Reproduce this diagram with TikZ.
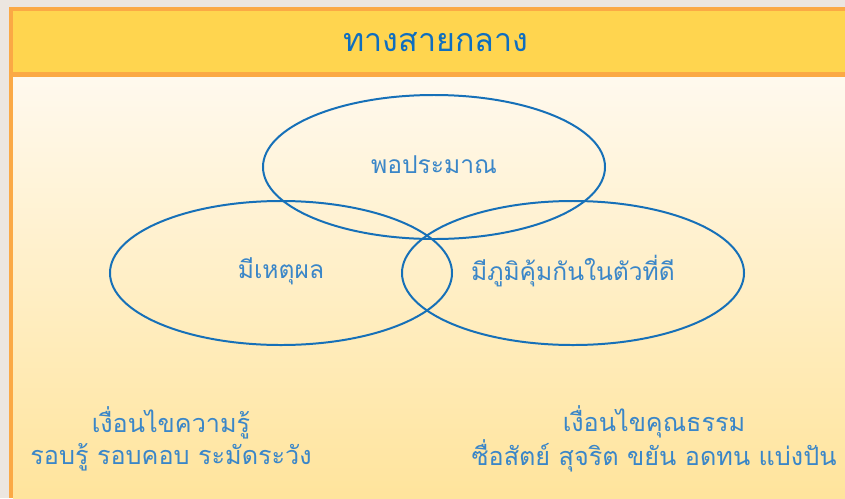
\documentclass[tikz,border=0pt]{standalone}
\usepackage{fontspec}
\newfontfamily\thaifont[Script=Thai]{Loma}
\usetikzlibrary{shapes.geometric, positioning, backgrounds}
\definecolor{headyellow}{RGB}{255,213,79}
\definecolor{frameorange}{RGB}{251,169,69}
\definecolor{bodytop}{RGB}{255,249,238}
\definecolor{bodybottom}{RGB}{255,228,156}
\definecolor{outergray}{RGB}{236,230,224}
\definecolor{ringblue}{RGB}{22,112,184}
\definecolor{textblue}{RGB}{58,134,200}
\definecolor{titleblue}{RGB}{15,110,191}

\begin{document}
\begin{tikzpicture}[
  x=0.03cm, y=-0.03cm,
  ring/.style={ellipse, draw=ringblue, line width=1.7pt, minimum width=10.26cm, minimum height=4.32cm},
  label/.style={font=\thaifont\fontsize{21}{24}\selectfont, text=textblue},
  note/.style={font=\thaifont\fontsize{21.5}{27}\selectfont, text=textblue, align=center}
]
  \useasboundingbox (0,0) rectangle (845,498);

  % Frame
  \fill[outergray] (0,0) rectangle (845,498);
  \fill[frameorange] (9,7) rectangle (845,498);
  \shade[top color=bodytop, bottom color=bodybottom] (13,77) rectangle (845,498);
  \fill[headyellow] (13,11) rectangle (845,72);

  % Title
  \node[font=\thaifont\fontsize{27.5}{32}\selectfont, text=titleblue] (title) at (436,42) {ทางสายกลาง};

  % Rings
  \node[ring] (mod) at (434,167) {};
  \node[ring] (rea) at (281,273) {};
  \node[ring] (imm) at (573,273) {};

  % Ring labels
  \node[label] (modtext) at (434,165) {พอประมาณ};
  \node[label] (reatext) at (281,271) {มีเหตุผล};
  \node[label] (immtext) at (573,271) {มีภูมิคุ้มกันในตัวที่ดี};

  % Conditions
  \node[note] (know) at (171,439) {เงื่อนไขความรู้\\รอบรู้ รอบคอบ ระมัดระวัง};
  \node[note] (moral) at (654,439) {เงื่อนไขคุณธรรม\\ซื่อสัตย์ สุจริต ขยัน อดทน แบ่งปัน};
\end{tikzpicture}
\end{document}
